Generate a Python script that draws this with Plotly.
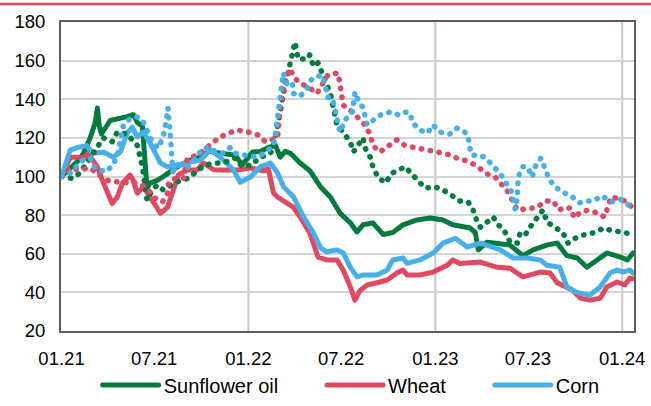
import plotly.graph_objects as go

# ---- Sunflower oil (solid) ----
sun_dates = ["2021-01-01", "2021-01-18", "2021-02-02", "2021-02-13", "2021-02-26", "2021-03-08",
             "2021-03-12", "2021-03-16", "2021-03-20", "2021-04-06", "2021-04-26", "2021-05-09",
             "2021-05-21", "2021-05-29", "2021-06-08", "2021-06-13", "2021-06-17", "2021-06-23",
             "2021-07-07", "2021-07-19", "2021-08-02", "2021-08-15", "2021-09-10", "2021-09-29",
             "2021-10-15", "2021-11-17", "2021-12-06", "2021-12-20", "2022-01-09", "2022-01-24",
             "2022-02-09", "2022-02-23", "2022-03-04", "2022-03-14", "2022-03-24", "2022-04-12",
             "2022-05-01", "2022-05-22", "2022-06-10", "2022-06-29", "2022-07-19", "2022-08-01",
             "2022-08-13", "2022-09-01", "2022-09-21", "2022-10-10", "2022-10-30", "2022-11-26",
             "2022-12-22", "2023-01-16", "2023-02-04", "2023-03-10", "2023-03-20", "2023-03-26",
             "2023-04-12", "2023-05-27", "2023-06-21", "2023-07-11", "2023-08-07", "2023-08-27",
             "2023-09-15", "2023-10-05", "2023-10-24", "2023-11-13", "2023-12-02", "2023-12-28",
             "2024-01-11", "2024-01-22"]
sun_vals = [100, 104, 108, 112, 120, 128,
            135.5, 126, 122, 129, 130, 131,
            132, 128, 126, 110, 94, 96.6,
            98, 100, 103, 105, 108.5, 110,
            113, 112, 111, 106, 112.7, 113,
            115, 116, 110, 113, 112, 107,
            103, 94.6, 89.4, 81, 76, 71.3,
            75, 76, 70, 71, 75, 77.5,
            78.5, 77.5, 75, 73.3, 71, 62,
            66, 64.5, 59, 62, 64.5, 65.5,
            59, 57.8, 53, 56.8, 60.4, 58.3,
            56.8, 60.4]

# ---- Wheat (solid) ----
wheat_dates = ["2021-01-01", "2021-01-18", "2021-02-01", "2021-02-13", "2021-02-22", "2021-03-12",
               "2021-03-24", "2021-04-10", "2021-04-20", "2021-04-30", "2021-05-15", "2021-05-21",
               "2021-05-29", "2021-06-10", "2021-06-23", "2021-07-13", "2021-07-27", "2021-08-08",
               "2021-08-17", "2021-09-04", "2021-09-23", "2021-10-05", "2021-10-25", "2021-11-13",
               "2021-12-11", "2022-01-05", "2022-01-30", "2022-02-09", "2022-02-19", "2022-02-27",
               "2022-03-30", "2022-04-12", "2022-05-01", "2022-05-17", "2022-06-03", "2022-06-23",
               "2022-07-05", "2022-07-19", "2022-07-28", "2022-08-07", "2022-08-21", "2022-09-09",
               "2022-09-29", "2022-10-18", "2022-10-30", "2022-11-07", "2022-12-02", "2022-12-28",
               "2023-01-24", "2023-02-04", "2023-02-18", "2023-03-30", "2023-05-02", "2023-05-27",
               "2023-06-21", "2023-07-25", "2023-08-13", "2023-08-27", "2023-09-15", "2023-09-27",
               "2023-10-11", "2023-10-30", "2023-11-19", "2023-12-02", "2023-12-22", "2024-01-06",
               "2024-01-16", "2024-01-22"]
wheat_vals = [100, 110, 110, 109.5, 112, 105,
              96.6, 86, 89.4, 96.6, 100.8, 98,
              91.4, 94.6, 89.4, 81, 84, 93,
              100.8, 103.4, 103.4, 107, 103.5, 103.4,
              103.4, 104.4, 103, 104, 91.4, 89.4,
              84, 79, 70.7, 58.3, 56.8, 56.8,
              51.6, 42.8, 36, 41, 43.8, 45,
              46.4, 50, 51.6, 49, 49, 50.5,
              54, 56.8, 55, 55.7, 53, 52.5,
              48, 50.5, 50, 45, 42.8, 41,
              37, 36, 37, 42.8, 45.4, 43.8,
              47.4, 47]

# ---- Corn (solid) ----
corn_dates = ["2021-01-01", "2021-01-18", "2021-02-01", "2021-02-19", "2021-03-04", "2021-03-24",
              "2021-04-12", "2021-04-26", "2021-05-09", "2021-05-19", "2021-05-29", "2021-06-10",
              "2021-06-23", "2021-07-13", "2021-07-27", "2021-08-15", "2021-09-10", "2021-09-29",
              "2021-10-19", "2021-11-07", "2021-12-03", "2021-12-16", "2022-01-05", "2022-01-24",
              "2022-02-13", "2022-02-27", "2022-03-11", "2022-03-30", "2022-04-19", "2022-05-08",
              "2022-05-22", "2022-06-03", "2022-06-23", "2022-07-05", "2022-07-19", "2022-08-01",
              "2022-08-13", "2022-09-09", "2022-09-29", "2022-10-10", "2022-10-30", "2022-11-07",
              "2022-12-02", "2022-12-28", "2023-01-16", "2023-02-09", "2023-03-04", "2023-03-30",
              "2023-05-08", "2023-06-02", "2023-06-30", "2023-07-25", "2023-08-07", "2023-09-01",
              "2023-09-15", "2023-10-05", "2023-10-30", "2023-11-19", "2023-12-08", "2023-12-22",
              "2024-01-03", "2024-01-16", "2024-01-22"]
corn_vals = [100, 113.7, 115, 116, 112, 112.7,
             110, 112.7, 122.5, 125.6, 120.5, 123,
             117.3, 107, 105, 106, 107, 108.5,
             113.7, 110, 103.4, 97, 99.7, 105,
             107, 101.8, 94.6, 89.4, 79, 70.7,
             63, 61, 62, 60.4, 53, 48,
             49, 49, 51.6, 56.8, 57.8, 55,
             56.8, 60.4, 65.5, 68, 63.5, 65.5,
             62, 57.8, 57.8, 56.8, 54, 53,
             42.8, 40, 38.6, 42.8, 50, 51.6,
             50.5, 51.6, 50]

# ---- Sunflower oil (dotted) ----
sun2_dates = ["2021-01-01", "2021-01-22", "2021-02-06", "2021-02-19", "2021-03-08", "2021-03-24",
              "2021-04-10", "2021-04-20", "2021-05-09", "2021-05-29", "2021-06-08", "2021-06-13",
              "2021-06-17", "2021-06-27", "2021-07-07", "2021-07-19", "2021-08-11", "2021-09-05",
              "2021-09-19", "2021-10-08", "2021-11-17", "2021-12-06", "2021-12-20", "2022-01-09",
              "2022-01-20", "2022-02-13", "2022-02-19", "2022-02-27", "2022-03-04", "2022-03-10",
              "2022-03-20", "2022-03-30", "2022-04-02", "2022-04-08", "2022-04-26", "2022-05-01",
              "2022-05-08", "2022-05-17", "2022-05-25", "2022-06-03", "2022-06-10", "2022-06-14",
              "2022-06-23", "2022-07-05", "2022-07-19", "2022-07-25", "2022-08-03", "2022-08-13",
              "2022-08-17", "2022-08-27", "2022-09-01", "2022-09-11", "2022-09-25", "2022-10-09",
              "2022-11-03", "2022-11-12", "2022-11-26", "2022-12-12", "2023-01-01", "2023-01-16",
              "2023-02-03", "2023-02-18", "2023-03-06", "2023-03-16", "2023-03-24", "2023-03-30",
              "2023-04-12", "2023-04-24", "2023-05-04", "2023-05-17", "2023-05-27", "2023-06-10",
              "2023-06-16", "2023-06-26", "2023-07-05", "2023-07-19", "2023-07-30", "2023-08-07",
              "2023-08-23", "2023-09-07", "2023-09-17", "2023-10-01", "2023-10-20", "2023-11-09",
              "2023-11-25", "2023-12-14", "2024-01-04", "2024-01-16"]
sun2_vals = [100, 99, 101.8, 107, 113, 120,
             118, 123, 122, 116, 105, 94.5,
             87.8, 93, 95.6, 93, 97, 99,
             101.8, 106, 107.5, 109.5, 105, 106,
             109.5, 112, 116, 125, 133, 143,
             153.6, 165.5, 169.6, 160.8, 160.8, 163,
             157, 158.8, 153.6, 148.4, 143, 138,
             126.7, 123, 117.8, 112.7, 116, 120,
             114.7, 110, 105, 99.7, 96.6, 101.8,
             105, 102.3, 98, 94, 94.6, 93,
             90, 87.3, 86.8, 82.6, 76.4, 73.8,
             76.4, 79, 75, 71.3, 66, 65.5,
             71, 70, 73.8, 78.5, 82.6, 76.4,
             73.3, 71, 65.5, 68, 70, 71,
             73.3, 71.8, 71.3, 70]

# ---- Wheat (dotted) ----
wheat2_dates = ["2021-01-01", "2021-01-18", "2021-02-03", "2021-02-26", "2021-03-14", "2021-03-31",
                "2021-04-26", "2021-05-15", "2021-05-31", "2021-06-17", "2021-06-29", "2021-07-17",
                "2021-07-27", "2021-07-29", "2021-08-11", "2021-08-27", "2021-09-04", "2021-09-23",
                "2021-10-15", "2021-11-04", "2021-11-23", "2021-12-11", "2022-01-01", "2022-01-20",
                "2022-02-03", "2022-02-27", "2022-03-04", "2022-03-08", "2022-03-12", "2022-03-18",
                "2022-03-24", "2022-03-30", "2022-04-12", "2022-05-01", "2022-05-15", "2022-06-05",
                "2022-06-25", "2022-06-29", "2022-07-01", "2022-07-05", "2022-07-23", "2022-08-03",
                "2022-08-17", "2022-08-27", "2022-09-01", "2022-09-15", "2022-10-01", "2022-10-18",
                "2022-11-03", "2022-11-22", "2022-12-16", "2023-01-04", "2023-01-24", "2023-02-12",
                "2023-03-04", "2023-03-24", "2023-04-08", "2023-04-28", "2023-05-11", "2023-05-23",
                "2023-06-10", "2023-06-30", "2023-07-19", "2023-08-03", "2023-08-19", "2023-08-31",
                "2023-09-09", "2023-09-23", "2023-09-29", "2023-10-09", "2023-10-26", "2023-11-15",
                "2023-11-27", "2023-12-04", "2023-12-10", "2023-12-28", "2024-01-11", "2024-01-20"]
wheat2_vals = [100, 104.4, 103.4, 104.4, 101, 98,
               97, 97, 96.6, 94, 89.4, 86.8,
               91.4, 96.6, 99, 99, 109.5, 111,
               116, 120, 122.5, 124, 123, 121.5,
               118, 120, 136, 142, 147.4, 152.5,
               156, 151.5, 148.4, 145.8, 143, 152.5,
               153.6, 147.4, 142, 137, 133.4, 130,
               126.7, 121.5, 116, 112.7, 116, 119,
               116, 115, 114, 112.7, 111.6, 109.5,
               108, 105.4, 101.8, 99.7, 96, 92,
               82.6, 83, 84, 87.3, 87.3, 82.6,
               84, 83.6, 78.5, 81, 82.6, 81,
               79, 84, 89.4, 88.3, 86.8, 84]

# ---- Corn (dotted) ----
corn2_dates = ["2021-01-01", "2021-01-22", "2021-02-01", "2021-02-17", "2021-02-26", "2021-03-08",
               "2021-03-28", "2021-04-12", "2021-04-20", "2021-05-02", "2021-05-15", "2021-05-27",
               "2021-06-08", "2021-06-23", "2021-07-08", "2021-07-18", "2021-07-22", "2021-07-26",
               "2021-07-28", "2021-08-01", "2021-08-05", "2021-08-07", "2021-08-11", "2021-09-05",
               "2021-10-05", "2021-10-19", "2021-10-29", "2021-11-11", "2021-11-27", "2021-12-06",
               "2021-12-26", "2022-01-20", "2022-02-13", "2022-02-19", "2022-02-23", "2022-02-27",
               "2022-03-03", "2022-03-08", "2022-03-10", "2022-03-18", "2022-03-28", "2022-03-30",
               "2022-04-12", "2022-04-26", "2022-05-06", "2022-05-12", "2022-05-25", "2022-05-31",
               "2022-06-04", "2022-06-14", "2022-06-20", "2022-06-23", "2022-06-29", "2022-07-09",
               "2022-07-23", "2022-07-28", "2022-08-03", "2022-08-13", "2022-08-17", "2022-08-21",
               "2022-09-05", "2022-09-19", "2022-10-05", "2022-10-20", "2022-10-30", "2022-11-12",
               "2022-11-18", "2022-12-02", "2022-12-17", "2022-12-27", "2023-01-10", "2023-01-29",
               "2023-02-12", "2023-02-24", "2023-03-06", "2023-03-08", "2023-03-14", "2023-03-30",
               "2023-04-10", "2023-04-24", "2023-05-08", "2023-05-19", "2023-05-29", "2023-06-02",
               "2023-06-06", "2023-06-10", "2023-06-11", "2023-06-12", "2023-06-20", "2023-06-30",
               "2023-07-09", "2023-07-15", "2023-07-26", "2023-08-01", "2023-08-09", "2023-08-19",
               "2023-09-05", "2023-09-23", "2023-10-09", "2023-10-22", "2023-11-05", "2023-11-23",
               "2023-12-10", "2023-12-28", "2024-01-13", "2024-01-20"]
corn2_vals = [100, 102.3, 106, 109.5, 109.5, 104.4,
              102.3, 106, 111, 126.7, 130, 131,
              129.3, 120, 114.7, 120, 125, 130.3,
              135.5, 123, 112, 100.8, 106, 105,
              114.7, 115, 112.7, 112, 115, 112,
              111, 110, 114.7, 116, 122.5, 130,
              140, 148.4, 153.6, 147.4, 148.4, 143,
              141.5, 145.8, 151, 151.5, 152.5, 147.4,
              141, 140.6, 134.4, 129.3, 123, 129.3,
              133.4, 143.7, 139.6, 135.5, 130.3, 126.7,
              129.8, 132.4, 133.4, 132, 133.4, 133,
              127.7, 124, 122.5, 126.7, 123, 122,
              125, 123.6, 121.5, 115.8, 111, 111,
              109.5, 105.4, 101.3, 96.6, 92.5, 87.8,
              83, 89.4, 94.6, 99.7, 105, 105,
              99.7, 105, 109.5, 105.4, 100.3, 95.6,
              92, 90, 86.3, 87.3, 87.3, 90,
              86.8, 88.3, 84.7, 84]

# Axis labels and yearly separators
tick_dates = ["2021-01-01", "2021-07-01", "2022-01-01", "2022-07-01", "2023-01-01", "2023-07-01", "2024-01-01"]
tick_text = ["01.21", "07.21", "01.22", "07.22", "01.23", "07.23", "01.24"]
year_starts = ["2022-01-01", "2023-01-01", "2024-01-01"]

GREEN = "#037b3f"
RED = "#de4a62"
BLUE = "#48b0e6"
FONT = "Liberation Sans, Arial, sans-serif"
PAD = "\u00a0" * 7  # widens the gap after a legend entry

fig = go.Figure()

solid = [("Sunflower oil" + PAD, sun_dates, sun_vals, GREEN),
         ("Wheat" + PAD, wheat_dates, wheat_vals, RED),
         ("Corn", corn_dates, corn_vals, BLUE)]
dotted = [("Sunflower oil", sun2_dates, sun2_vals, GREEN),
          ("Wheat", wheat2_dates, wheat2_vals, RED),
          ("Corn", corn2_dates, corn2_vals, BLUE)]

for name, d, v, c in solid:
    fig.add_trace(go.Scatter(x=d, y=v, mode="lines", name=name,
                             line=dict(color=c, width=5)))
for name, d, v, c in dotted:
    fig.add_trace(go.Scatter(x=d, y=v, mode="lines", name=name, showlegend=False,
                             line=dict(color=c, width=5.5, dash="0.5px,8.5px")))

for ys in year_starts:
    fig.add_shape(type="line", xref="x", yref="paper", x0=ys, x1=ys, y0=0, y1=1,
                  line=dict(color="#c8c8c8", width=2), layer="below")

# thin accent rule across the top of the page
fig.add_shape(type="line", xref="paper", yref="paper", x0=-0.11, x1=1.04, y0=1.058, y1=1.058,
              line=dict(color="#d94a5f", width=2.5))

fig.update_layout(
    width=651, height=406,
    margin=dict(l=61, r=17, t=22, b=75, autoexpand=False),
    paper_bgcolor="white", plot_bgcolor="white",
    font=dict(family=FONT, size=18.5, color="#000000"),
    showlegend=True,
    legend=dict(orientation="h", x=0.064, xanchor="left", y=-0.175, yanchor="middle",
                font=dict(family=FONT, size=20, color="#000000"),
                itemwidth=56, bgcolor="rgba(0,0,0,0)"),
    xaxis=dict(type="date", range=["2020-12-31", "2024-01-24"],
               tickvals=tick_dates, ticktext=tick_text, showgrid=False,
               ticks="", showline=True, mirror=True, linecolor="#5e5e5e", linewidth=2,
               zeroline=False, ticklabelstandoff=10),
    yaxis=dict(range=[20, 180], dtick=20, tick0=20, showgrid=True, gridcolor="#d4d4d4",
               gridwidth=1.5, ticks="", showline=True, mirror=True, linecolor="#5e5e5e",
               linewidth=2, zeroline=False, ticklabelstandoff=10),
)

round_caps = """
var s = document.createElement('style');
s.textContent = '.js-line{stroke-linecap:round;stroke-linejoin:round;}';
document.head.appendChild(s);
"""
fig.write_html("out.html", post_script=round_caps)
